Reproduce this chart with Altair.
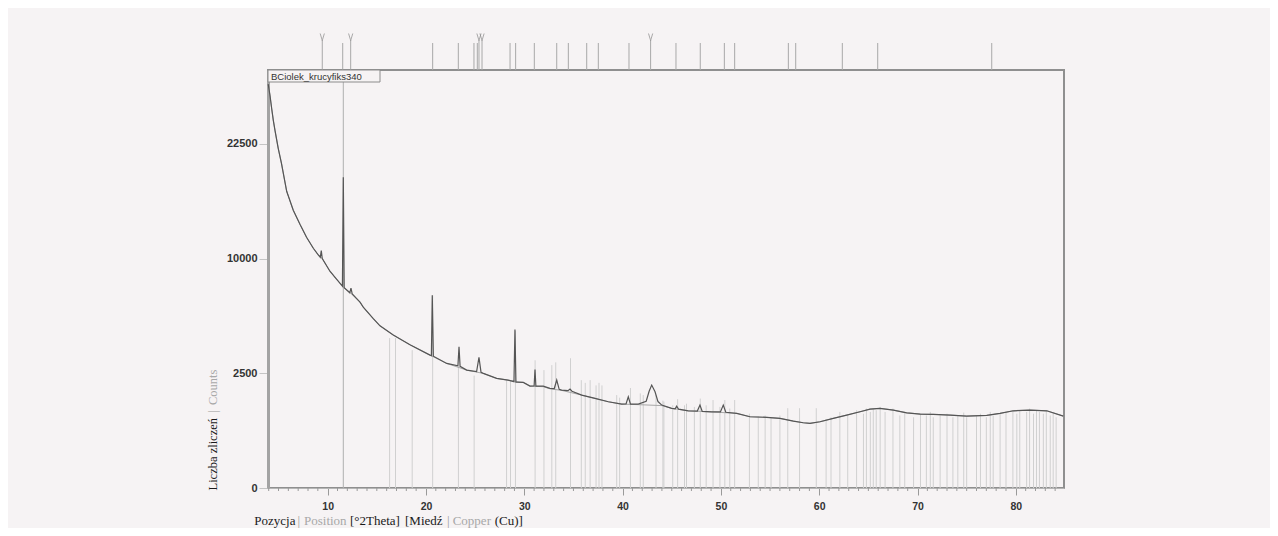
import altair as alt
import pandas as pd

# ---------------- data ----------------
theta = [3.95, 4.13, 4.30, 4.47, 4.64, 4.97, 5.30, 5.83, 6.50, 7.18, 7.85, 8.54, 9.00, 9.25, 9.35, 9.45,
         10.23, 10.90, 11.50, 11.59, 11.68, 12.25, 12.37, 12.50, 13.29, 13.62, 14.64, 15.32, 16.67, 18.37,
         20.41, 20.55, 20.64, 20.75, 22.11, 23.25, 23.36, 23.47, 24.14, 25.15, 25.39, 25.60, 25.83, 27.19,
         28.34, 28.95, 29.05, 29.15, 29.90, 30.58, 31.00, 31.09, 31.18, 31.93, 32.61, 33.05, 33.30, 33.55,
         33.80, 34.45, 34.65, 34.85, 35.84, 37.19, 38.55, 39.91, 40.35, 40.58, 40.80, 41.60, 42.40, 42.70,
         42.96, 43.30, 43.60, 43.98, 44.99, 45.35, 45.50, 45.70, 46.68, 47.60, 47.87, 48.10, 49.06, 49.95,
         50.24, 50.50, 51.61, 52.96, 54.66, 56.01, 57.37, 58.38, 59.06, 60.08, 61.43, 62.80, 64.15, 65.17,
         66.18, 67.54, 68.90, 70.26, 71.61, 73.31, 75.00, 77.04, 78.39, 79.75, 81.44, 83.14, 84.83]
counts = [31000, 29290, 27400, 25690, 24310, 21930, 20030, 16730, 14660, 13220, 11950, 10920, 10380, 10120, 10700, 10000,
          8931, 8285, 7740, 18340, 7620, 7240, 7586, 7150, 6562, 6213, 5450, 5000, 4450, 3900,
          3355, 3330, 7064, 3300, 2949, 2840, 3787, 2810, 2641, 2580, 3240, 2540, 2495, 2282,
          2212, 2150, 4777, 2130, 2119, 1973, 1980, 2672, 1970, 1973, 1885, 1880, 2212, 1850,
          1822, 1800, 1860, 1780, 1640, 1526, 1413, 1338, 1340, 1581, 1335, 1338, 1430, 1780,
          2012, 1760, 1420, 1307, 1205, 1190, 1275, 1180, 1133, 1125, 1307, 1115, 1104, 1100,
          1307, 1090, 1058, 964, 948, 921, 851, 809, 794, 834, 921, 1011, 1104, 1184,
          1205, 1154, 1075, 1039, 1030, 1011, 983, 1000, 1058, 1133, 1154, 1133, 983]

bg_theta = [3.95, 4.13, 4.30, 4.47, 4.64, 4.97, 5.30, 5.83, 6.50, 7.18, 7.85, 8.54, 9.00, 9.45, 10.23, 10.90,
            11.59, 12.37, 13.29, 13.62, 14.64, 15.32, 16.67, 18.37, 20.41, 22.11, 24.14, 25.83, 27.19, 28.34,
            29.90, 30.58, 31.93, 32.61, 33.80, 35.84, 37.19, 38.55, 39.91, 41.60, 43.98, 44.99, 46.68, 49.06,
            51.61, 52.96, 54.66, 56.01, 57.37, 58.38, 59.06, 60.08, 61.43, 62.80, 64.15, 65.17, 66.18, 67.54,
            68.90, 70.26, 71.61, 73.31, 75.00, 77.04, 78.39, 79.75, 81.44, 83.14, 84.83]
bg_counts = [31000, 29290, 27400, 25690, 24310, 21930, 20030, 16730, 14660, 13220, 11950, 10920, 10380, 10000, 8931, 8285,
             7680, 7200, 6562, 6213, 5450, 5000, 4450, 3900, 3355, 2949, 2641, 2495, 2282, 2212,
             2119, 1973, 1950, 1870, 1810, 1640, 1526, 1413, 1338, 1320, 1290, 1205, 1133, 1100,
             1058, 964, 948, 921, 851, 809, 794, 834, 921, 1011, 1104, 1184, 1205, 1154,
             1075, 1039, 1030, 1011, 983, 1000, 1058, 1133, 1154, 1133, 983]

stick_pos = [16.3, 16.9, 18.6, 20.68, 23.3, 24.9, 28.2, 28.6, 29.1, 31.1, 32.0, 32.8, 33.2, 34.7, 35.8, 36.2,
             36.7, 37.3, 37.6, 37.9, 39.4, 39.7, 40.8, 41.8, 42.1, 43.4, 44.1, 44.2, 45.1, 45.6, 46.3, 46.5,
             47.3, 47.9, 48.5, 49.2, 49.9, 50.4, 50.9, 51.4, 52.9, 53.8, 54.5, 55.1, 56.0, 56.8, 58.0, 59.7,
             60.7, 61.2, 62.1, 62.9, 63.8, 64.5, 64.8, 65.2, 65.5, 65.8, 66.2, 66.7, 67.5, 68.2, 68.7, 69.6,
             70.3, 70.9, 71.3, 71.6, 72.3, 73.0, 73.6, 74.1, 74.7, 75.0, 76.0, 76.4, 77.0, 77.4, 77.7, 78.4,
             79.0, 79.7, 80.1, 80.4, 81.1, 81.4, 81.8, 82.1, 82.4, 82.8, 83.1, 83.5, 83.8, 84.1]
stick_h = [4270, 4270, 3610, 7060, 2780, 2400, 2210, 2210, 4700, 3100, 2640, 2870, 3000, 3200, 2210, 2100,
           2210, 2000, 2100, 2000, 1640, 1550, 1900, 1700, 1640, 1650, 1450, 1420, 1300, 1500, 1300, 1350,
           1250, 1520, 1300, 1470, 1250, 1470, 1200, 1470, 1050, 980, 1000, 950, 1000, 1210, 1210, 1210,
           900, 950, 1100, 1000, 1150, 1050, 1200, 1100, 1200, 1150, 1250, 1100, 1200, 1000, 1100, 950,
           1050, 1000, 1100, 950, 1000, 1050, 950, 1000, 1080, 950, 1000, 1050, 950, 1100, 1000, 1050,
           1100, 1150, 1050, 1150, 1100, 1200, 1050, 1150, 1100, 1050, 1150, 1000, 1050, 950]
main_stick_pos = [11.59]
main_stick_h = [33200]

top_pos = [11.53, 20.68, 23.29, 24.88, 25.22, 28.55, 29.12, 31.02, 33.30, 34.48, 36.35, 37.53,
           40.65, 45.43, 47.90, 50.35, 51.40, 56.86, 57.61, 62.35, 65.95, 77.55]
top_v_pos = [9.45, 12.34, 25.39, 25.70, 42.85]

x_major = [10, 20, 30, 40, 50, 60, 70, 80]
x_minor = [v for v in range(4, 85) if v % 10 != 0]
y_ticks = [0, 2500, 10000, 22500]
sample_name = "BCiolek_krucyfiks340"

BG = "#f6f3f4"
W, H = 796, 418
xs = alt.Scale(domain=[3.93, 84.9], nice=False, zero=False)
ys = alt.Scale(type="sqrt", domain=[0, 33200], nice=False)

df_data = pd.DataFrame({"deg": theta, "cnt": counts})
df_bg = pd.DataFrame({"deg": bg_theta, "cnt": bg_counts})
df_st = pd.DataFrame({"deg": stick_pos, "cnt": stick_h, "zero": 0})
df_mst = pd.DataFrame({"deg": main_stick_pos, "cnt": main_stick_h, "zero": 0})
df_top = pd.DataFrame({"deg": top_pos})
df_topv = pd.DataFrame({"deg": top_v_pos})
df_minor = pd.DataFrame({"deg": x_minor})
one = pd.DataFrame({"a": [0]})

x_axis = alt.Axis(values=x_major, format="d", labelOverlap=False, tickSize=7, tickColor="#9a9a9a",
                  domainColor="#b5b5b5", domainWidth=1,
                  labelFont="Liberation Sans", labelFontSize=10.5, labelFontWeight="bold",
                  labelColor="#333", labelPadding=6, grid=False, title=None)
y_axis = alt.Axis(values=y_ticks, format="d", labelOverlap=False, tickSize=9, tickColor="#c4c4c4",
                  domainColor="#a3a3a3", domainWidth=3,
                  labelFont="Liberation Sans", labelFontSize=11, labelFontWeight="bold",
                  labelColor="#333", labelPadding=2, grid=False, title=None)

sticks = alt.Chart(df_st).mark_rule(color="#d0d0d0", strokeWidth=1).encode(
    x=alt.X("deg:Q", scale=xs, axis=x_axis),
    y=alt.Y("cnt:Q", scale=ys, axis=y_axis),
    y2="zero:Q")
main_stick = alt.Chart(df_mst).mark_rule(color="#b0b0b0", strokeWidth=1).encode(
    x="deg:Q", y="cnt:Q", y2="zero:Q")
bgline = alt.Chart(df_bg).mark_line(color="#a8a8a8", strokeWidth=1).encode(x="deg:Q", y="cnt:Q")
dline = alt.Chart(df_data).mark_line(color="#555555", strokeWidth=1.2).encode(x="deg:Q", y="cnt:Q")

minor = alt.Chart(df_minor).mark_rule(color="#9a9a9a", strokeWidth=1).encode(
    x="deg:Q", y=alt.value(H), y2=alt.value(H + 3))

top = alt.Chart(df_top).mark_rule(color="#a8a8a8", strokeWidth=1).encode(
    x="deg:Q", y=alt.value(-27), y2=alt.value(0))
topv_line = alt.Chart(df_topv).mark_rule(color="#a8a8a8", strokeWidth=1).encode(
    x="deg:Q", y=alt.value(-30), y2=alt.value(0))
topv = alt.Chart(df_topv).mark_point(shape="M-0.6,-1L0,1L0.6,-1", size=49, filled=False,
                                      color="#8a8a8a", strokeWidth=1).encode(
    x="deg:Q", y=alt.value(-33))

box = alt.Chart(one).mark_rect(fill=BG, stroke="#8c8c8c", strokeWidth=1).encode(
    x=alt.value(0), x2=alt.value(112), y=alt.value(0), y2=alt.value(12))
name = alt.Chart(one).mark_text(text=sample_name, font="Liberation Sans", fontSize=9.5, color="#333",
                                align="left", baseline="middle").encode(x=alt.value(3), y=alt.value(6.5))

layers = [sticks, main_stick, bgline, dline, minor, top, topv_line, topv, box, name]

# axis titles made of coloured pieces
x_title = [("Pozycja", -13.7, "#1a1a1a"), ("|", 29.5, "#999999"), ("Position", 36, "#a8a8a8"),
           ("[°2Theta]", 82, "#1a1a1a"), ("[Miedź", 137, "#1a1a1a"), ("|", 179, "#999999"),
           ("Copper", 184.7, "#a8a8a8"), ("(Cu)]", 226.7, "#1a1a1a")]
for txt, px, col in x_title:
    layers.append(alt.Chart(one).mark_text(text=txt, font="Liberation Serif", fontSize=13, color=col,
                                           align="left", baseline="middle")
                  .encode(x=alt.value(px), y=alt.value(H + 33)))

y_title = [("Liczba zliczeń", 420.5, "#1a1a1a"), ("|", 342.5, "#999999"), ("Counts", 335, "#a8a8a8")]
for txt, py, col in y_title:
    layers.append(alt.Chart(one).mark_text(text=txt, font="Liberation Serif", fontSize=12.5, color=col,
                                           align="left", baseline="middle", angle=270)
                  .encode(x=alt.value(-55), y=alt.value(py)))

chart = alt.layer(*layers).properties(
    width=W, height=H,
    padding={"left": 260, "top": 62, "right": 206, "bottom": 40},
    autosize=alt.AutoSizeParams(type="none"),
    background=BG,
).configure_view(stroke="#8f8f8f", strokeWidth=2, fill=BG)

chart.save("out.html", embed_options={"renderer": "svg", "actions": False})
